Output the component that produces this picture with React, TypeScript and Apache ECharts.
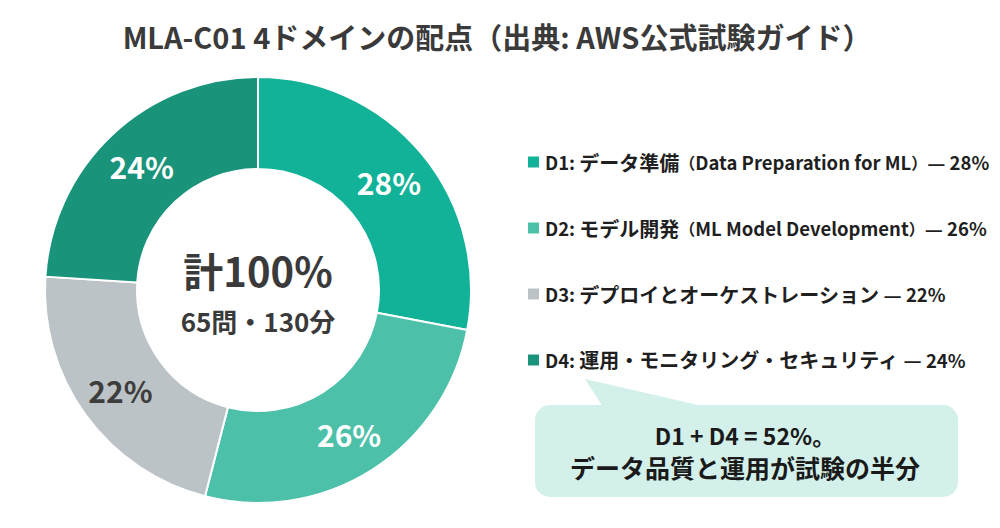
import React, { useEffect, useRef } from "react";
import * as echarts from "echarts";

const TITLE = "MLA-C01 4ドメインの配点（出典: AWS公式試験ガイド）";
const domainCodes = ["D1", "D2", "D3", "D4"];
const domainNames = [
  "データ準備（Data Preparation for ML）",
  "モデル開発（ML Model Development）",
  "デプロイとオーケストレーション",
  "運用・モニタリング・セキュリティ",
];
const shares = [28, 26, 22, 24];
const centerMain = "計100%";
const centerSub = "65問・130分";
const calloutLines = ["D1 + D4 = 52%。", "データ品質と運用が試験の半分"];

const PALETTE = ["#12b298", "#4cc0a8", "#bcc3c6", "#1a937b"];
const LABEL_COLORS = ["#ffffff", "#ffffff", "#3d3d3d", "#ffffff"];
const FONT = '"Noto Sans CJK JP", "Noto Sans", sans-serif';

function toRich(s: string): string {
  const runs = s.match(/[\x00-\x7f]+|[（）]|[^\x00-\x7f（）]+/g) || [];
  return runs
    .map((r) => {
      if (/^[\x00-\x7f]+$/.test(r)) return `{a|${r}}`;
      if (r === "（" || r === "）") return `{p|${r}}`;
      return `{j|${r}}`;
    })
    .join("");
}

export default function App() {
  const ref = useRef<HTMLDivElement>(null);
  useEffect(() => {
    if (!ref.current) return;
    const chart = echarts.init(ref.current, null, { renderer: "svg" });
    const legendNames = domainCodes.map((c, i) => `${c}: ${domainNames[i]}`);
    const pctByName: Record<string, number> = {};
    legendNames.forEach((n, i) => (pctByName[n] = shares[i]));
    const centerText = (text: string, y: number, size: number) => ({
      type: "text",
      x: 258,
      y,
      style: {
        text,
        fontSize: size,
        fontWeight: "bold",
        fill: "#3a3a3a",
        fontFamily: FONT,
        textAlign: "center",
        textVerticalAlign: "middle",
      },
      z: 11,
    });
    const calloutText = (text: string, y: number, size: number) => ({
      type: "text",
      x: 745,
      y,
      style: {
        text,
        fontSize: size,
        fontWeight: "bold",
        fill: "#1a1a1a",
        fontFamily: FONT,
        textAlign: "center",
        textVerticalAlign: "middle",
      },
      z: 11,
    });
    const legendBase = { fontWeight: "bold", color: "#1f1f1f", fontFamily: FONT, lineHeight: 22 };
    chart.setOption({
      animation: false,
      backgroundColor: "#ffffff",
      color: PALETTE,
      textStyle: { fontFamily: FONT },
      title: {
        text: TITLE,
        left: 492,
        textAlign: "center",
        top: 16,
        textStyle: { fontSize: 29, fontWeight: "bold", color: "#3a3a3a", fontFamily: FONT },
      },
      legend: {
        orient: "vertical",
        left: 521,
        top: 147,
        itemGap: 46,
        itemWidth: 13,
        itemHeight: 13,
        icon: "rect",
        selectedMode: false,
        data: legendNames,
        formatter: (name: string) => {
          const full = name.includes("）")
            ? `${name}— ${pctByName[name]}%`
            : `${name} — ${pctByName[name]}%`;
          return toRich(full);
        },
        textStyle: {
          fontSize: 19,
          fontWeight: "bold",
          color: "#1f1f1f",
          fontFamily: FONT,
          rich: {
            a: { ...legendBase, fontSize: 18.5 },
            j: { ...legendBase, fontSize: 20 },
            p: { ...legendBase, fontSize: 16 },
          },
        },
      },
      graphic: [
        {
          type: "polygon",
          shape: { points: [[585, 379], [603, 407], [707, 407]] },
          style: { fill: "#d3f1ea" },
          z: 10,
        },
        {
          type: "rect",
          shape: { x: 535, y: 405, width: 423, height: 92, r: 15 },
          style: { fill: "#d3f1ea" },
          z: 10,
        },
        calloutText(calloutLines[0], 435, 23),
        calloutText(calloutLines[1], 467, 25),
        centerText(centerMain, 270, 40),
        centerText(centerSub, 320, 26),
      ],
      series: [
        {
          type: "pie",
          center: [258, 290],
          radius: [121, 213],
          startAngle: 90,
          clockwise: true,
          avoidLabelOverlap: false,
          itemStyle: { borderColor: "#ffffff", borderWidth: 2 },
          label: {
            show: true,
            position: "inside",
            formatter: "{c}%",
            fontSize: 30,
            fontWeight: "bold",
            fontFamily: FONT,
          },
          labelLine: { show: false },
          emphasis: { disabled: true },
          data: shares.map((v, i) => ({
            name: legendNames[i],
            value: v,
            label: { color: LABEL_COLORS[i] },
          })),
        },
      ],
    });
    return () => chart.dispose();
  }, []);
  return (
    <div
      ref={ref}
      style={{ position: "fixed", left: 0, top: 0, width: 1000, height: 528 }}
    />
  );
}
